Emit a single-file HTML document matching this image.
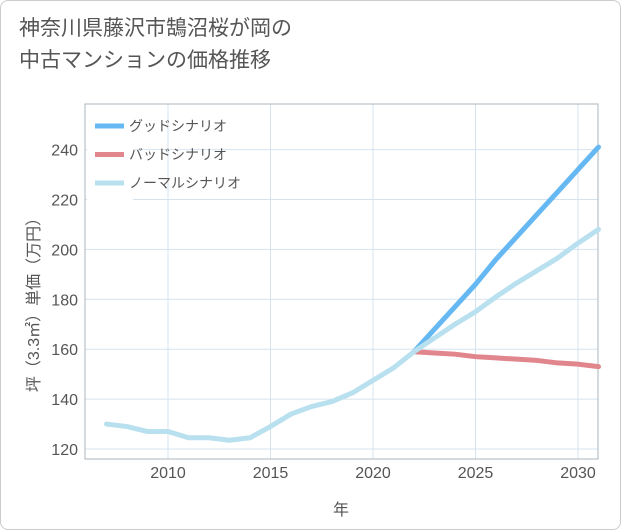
<!DOCTYPE html>
<html><head><meta charset="utf-8"><style>
body{margin:0;background:#fff;font-family:"Liberation Sans","Noto Sans CJK JP",sans-serif;}
#wrap{position:relative;width:619px;height:528px;border:1px solid #ccc;border-radius:8px;background:#fff;overflow:hidden}
#title{position:absolute;left:18px;top:12px;font-size:21px;color:#555;line-height:32px}
</style></head><body>
<div id="wrap">
<div id="title">神奈川県藤沢市鵠沼桜が岡の<br>中古マンションの価格推移</div>
<svg id="chart" width="621" height="530" style="position:absolute;left:0;top:0"></svg>
</div>
<script>
const years=[2007,2008,2009,2010,2011,2012,2013,2014,2015,2016,2017,2018,2019,2020,2021,2022,2023,2024,2025,2026,2027,2028,2029,2030,2031];
const normal=[130,129,127,127,124.5,124.5,123.5,124.5,129,134,137,139,142.5,147.5,152.5,159,164.5,170,175,181,186.5,191.5,196.5,202.5,208];
const fYears=[2022,2023,2024,2025,2026,2027,2028,2029,2030,2031];
const good=[159,168,177,186,196,205,214,223,232,241];
const bad=[159,158.5,158,157,156.5,156,155.5,154.5,154,153];
const xTicks=[2010,2015,2020,2025,2030];
const yTicks=[120,140,160,180,200,220,240];
const L=84,R=597,T=103,B=458;
const x=v=>167+(v-2010)*20.5;
const y=v=>448-(v-120)*2.495;
const svg=document.getElementById('chart');
const NS='http://www.w3.org/2000/svg';
function mk(t,a,p){const e=document.createElementNS(NS,t);for(const k in a)e.setAttribute(k,a[k]);(p||svg).appendChild(e);return e;}
let e;
for(const t of xTicks){e=mk('line',{x1:x(t),x2:x(t),y1:T,y2:B,stroke:'#d5e3ef','stroke-width':1});


e=mk('text',{x:x(t),y:477,'text-anchor':'middle','font-size':16,fill:'#555'});e.textContent=t;

}
for(const t of yTicks){e=mk('line',{x1:L,x2:R,y1:y(t),y2:y(t),stroke:'#d5e3ef','stroke-width':1});


e=mk('text',{x:77,y:y(t)+6,'text-anchor':'end','font-size':16,fill:'#555'});e.textContent=t;

}
e=mk('rect',{x:L,y:T,width:R-L,height:B-T,fill:'none',stroke:'#aab4bd','stroke-width':1});


function line(xs,vs,c,n){const p=mk('polyline',{points:xs.map((v,i)=>x(v)+','+y(vs[i])).join(' '),fill:'none',stroke:c,'stroke-width':5,'stroke-linejoin':'round','stroke-linecap':'round'});

}
line(fYears,bad,'#e0868c','bad-scenario-line');
line(fYears,good,'#66b8f3','good-scenario-line');
line(years,normal,'#b8e0ef','normal-scenario-line');
e=mk('rect',{x:86,y:108,width:46,height:95,fill:'#fff'});


const leg=[['グッドシナリオ','#66b8f3'],['バッドシナリオ','#e0868c'],['ノーマルシナリオ','#b8e0ef']];
leg.forEach((l,i)=>{const yy=125+i*28.5;
const g=mk('g',{});


mk('line',{x1:94,x2:123,y1:yy,y2:yy,stroke:l[1],'stroke-width':5},g);
const t=mk('text',{x:128,y:yy+5,'font-size':14,fill:'#555'},g);t.textContent=l[0];});
e=mk('text',{x:340,y:514,'text-anchor':'middle','font-size':16,fill:'#555'});e.textContent='年';


e=mk('text',{x:0,y:0,'text-anchor':'middle','font-size':16,fill:'#555',transform:'translate(38,300) rotate(-90)'});e.textContent='坪（3.3㎡）単価（万円）';


</script>
</body></html>
